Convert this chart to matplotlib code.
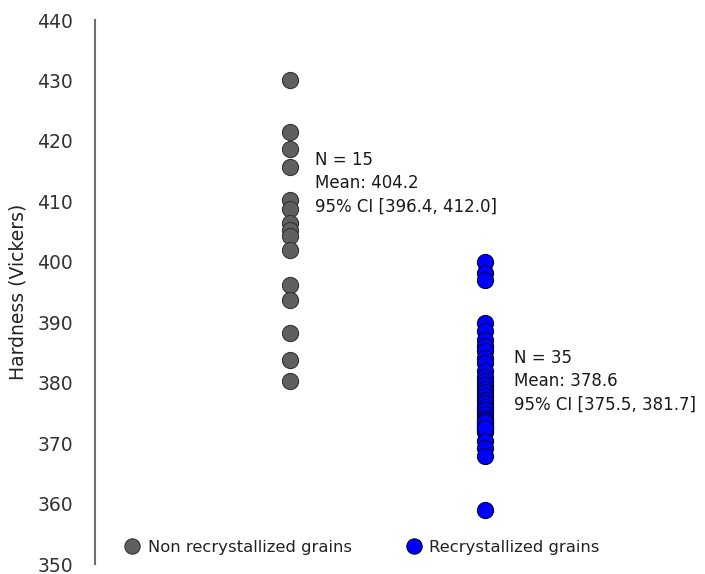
import matplotlib
matplotlib.use("Agg")
import matplotlib.pyplot as plt
from matplotlib.lines import Line2D

# Data
groups = ["Non recrystallized grains", "Recrystallized grains"]
non_recryst = [430.0, 421.5, 418.7, 415.6, 410.2, 408.8, 406.4, 405.2, 404.2,
               402.0, 396.2, 393.6, 388.2, 383.8, 380.2]
recryst = [400.0, 398.2, 397.0, 389.8, 388.6,
           387.0, 386.0, 385.2, 384.0, 383.2, 382.0, 381.0, 380.2, 379.6,
           379.0, 378.4, 377.8, 377.2, 376.6, 376.0, 375.4, 374.8, 374.2,
           373.8, 373.4, 373.0, 372.6, 372.2, 371.8, 373.5, 372.5,
           370.4, 369.2, 367.9, 359.0]
annotations = ["N = 15\nMean: 404.2\n95% CI [396.4, 412.0]",
               "N = 35\nMean: 378.6\n95% CI [375.5, 381.7]"]
yticks = [350, 360, 370, 380, 390, 400, 410, 420, 430, 440]

grey_face = "#5f5f5f"
grey_edge = "#333333"
blue_face = "#0000ff"
blue_edge = "#000040"

fig = plt.figure(figsize=(7.05, 5.74), dpi=100)
ax = fig.add_axes([95/705, 10/574, 585/705, 544/574])

ax.scatter([1]*len(non_recryst), non_recryst, s=135, c=grey_face,
           edgecolors=grey_edge, linewidths=0.8, zorder=3)
ax.scatter([2]*len(recryst), recryst, s=135, c=blue_face,
           edgecolors=blue_edge, linewidths=0.8, zorder=3)

ax.text(1.128, 413.0, annotations[0], fontsize=12, va="center", ha="left",
        linespacing=1.38, color="#1a1a1a")
ax.text(2.149, 380.2, annotations[1], fontsize=12, va="center", ha="left",
        linespacing=1.38, color="#1a1a1a")

ax.set_xlim(0, 3)
ax.set_ylim(350, 440)
ax.set_yticks(yticks)
ax.set_xticks([])
ax.tick_params(axis="y", length=0, pad=16, labelsize=13.5, labelcolor="#333333")
for s in ["top", "right", "bottom"]:
    ax.spines[s].set_visible(False)
ax.spines["left"].set_color("#707070")
ax.spines["left"].set_linewidth(1.5)
ax.set_ylabel("Hardness (Vickers)", fontsize=13.5, color="#222222", labelpad=7)
ax.patch.set_alpha(0)

handles = [Line2D([], [], marker="o", linestyle="none", markersize=11,
                  markerfacecolor=grey_face, markeredgecolor=grey_edge, markeredgewidth=0.8),
           Line2D([], [], marker="o", linestyle="none", markersize=11,
                  markerfacecolor=blue_face, markeredgecolor=blue_edge, markeredgewidth=0.8)]
ax.legend(handles, groups, loc="center left", bbox_to_anchor=(0.038, 0.03),
          ncol=2, frameon=False, fontsize=11.8, handletextpad=0.45,
          columnspacing=3.3, handlelength=1.0, borderaxespad=0,
          labelcolor="#222222")

fig.savefig("out.png", dpi=100)
